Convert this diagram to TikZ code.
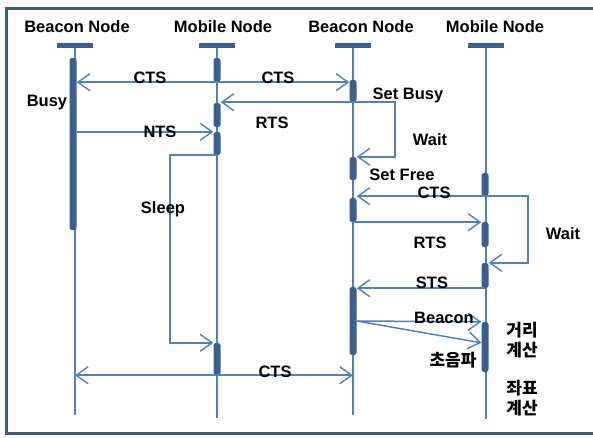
\documentclass[tikz,border=0pt]{standalone}
\usepackage{fontspec}
\setmainfont{Liberation Sans}
\newfontfamily\kr{Noto Sans CJK KR}
\usetikzlibrary{arrows.meta, positioning, calc}
\definecolor{lineblue}{HTML}{4F81BD}
\definecolor{barblue}{HTML}{3A5F94}
\definecolor{frameblue}{HTML}{3C5A85}

\begin{document}
\begin{tikzpicture}[
  x=1pt, y=-1pt,
  head/.style={font=\bfseries\fontsize{16.5}{18}\selectfont, inner sep=0pt},
  headbar/.style={rectangle, fill=barblue, minimum width=36pt, minimum height=5pt, inner sep=0pt},
  act/.style={rectangle, rounded corners=2.5pt, fill=barblue, minimum width=7pt, inner sep=0pt},
  life/.style={lineblue, line width=1.3pt},
  msg/.style={-{Straight Barb[length=12pt, width=17pt, line width=1.4pt]}, lineblue, line width=1.5pt},
  lbl/.style={font=\bfseries\fontsize{16.5}{18}\selectfont, inner sep=1pt},
  kor/.style={font=\kr\bfseries\fontsize{17}{20}\selectfont, inner sep=1pt},
]
\clip (0,0) rectangle (593,437);

% Frame
\draw[frameblue, line width=3pt] (6,8) rectangle (600,433);

% Headers
\node[head] (tA) at (77,27) {Beacon Node};
\node[head] (tB) at (223,27) {Mobile Node};
\node[head] (tC) at (361,27) {Beacon Node};
\node[head] (tD) at (495,27) {Mobile Node};
\node[headbar] (hA) at (75,45) {};
\node[headbar] (hB) at (217,45) {};
\node[headbar] (hC) at (353,45) {};
\node[headbar] (hD) at (486,45) {};

% Lifelines
\draw[life] (hA.south) -- ++(0,367);
\draw[life] (hB.south) -- ++(0,370);
\draw[life] (hC.south) -- ++(0,367);
\draw[life] (hD.south) -- ++(0,371);

% Activations beacon 1
\node[act, minimum height=172pt] (a1) at (73,144) {};

% Activations mobile 1
\node[act, minimum height=24pt] (m1) at (217,70) {};
\node[act, minimum height=24pt] (m2) at (217,115) {};
\node[act, minimum height=23pt] (m3) at (217,143.5) {};
\node[act, minimum height=32pt] (m4) at (217,359) {};

% Activations beacon 2
\node[act, minimum height=22pt] (c1) at (353,91) {};
\node[act, minimum height=23pt] (c2) at (353,168.5) {};
\node[act, minimum height=24pt] (c3) at (353,210) {};
\node[act, minimum height=68pt] (c4) at (353,321) {};

% Activations mobile 2
\node[act, minimum height=23pt] (d1) at (485,184.5) {};
\node[act, minimum height=25pt] (d2) at (485,234.5) {};
\node[act, minimum height=25pt] (d3) at (485,275.5) {};
\node[act, minimum height=50pt] (d4) at (485,347) {};

% Messages
\draw[msg] (m1.south) -- (a1.east |- m1.south);
\draw[msg] (m1.south) -- (c1.west |- m1.south);
\draw[msg] (c1.south) -- (m2.east |- c1.south);
\draw[msg] (c1.south) -- ++(42,0) |- (c2.north east);
\draw[msg] (a1.east |- m3.north) -- (m3.north west);
\draw[msg] (m3.south) -- ++(-47,0) |- (m4.north west);
\draw[msg] (d1.south) -- (c3.east |- d1.south);
\draw[msg] (d1.south) -- ++(43,0) |- (d3.north east);
\draw[msg] (c3.south) -- (d2.west |- c3.south);
\draw[msg] (d3.south) -- (c4.east |- d3.south);
\draw[msg] (c4.east) -- (d4.north west);
\draw[msg] (c4.east) -- ([yshift=-21pt]d4.north west);
\draw[msg] (m4.south) -- (hA |- m4.south);
\draw[msg] (m4.south) -- (hC |- m4.south);

% Labels
\node[lbl] (lCTSa) at (150,78) {CTS};
\node[lbl] (lCTSb) at (278,78) {CTS};
\node[lbl] (lBusy) at (47,103) {Busy};
\node[lbl] (lRTSa) at (272,123) {RTS};
\node[lbl] (lSetBusy) at (408,95) {Set Busy};
\node[lbl] (lWaita) at (430,140) {Wait};
\node[lbl] (lNTS) at (160,132) {NTS};
\node[lbl] (lSleep) at (163,209) {Sleep};
\node[lbl] (lSetFree) at (402,175) {Set Free};
\node[lbl] (lCTSc) at (434,193) {CTS};
\node[lbl] (lWaitb) at (563,234) {Wait};
\node[lbl] (lRTSb) at (430,243) {RTS};
\node[lbl] (lSTS) at (432,283) {STS};
\node[lbl] (lBeacon) at (444,318) {Beacon};
\node[kor] (lUltra) at (453,360) {초음파};
\node[kor] (lDist) at (522,330) {거리};
\node[kor] (lDistc) at (522,350) {계산};
\node[kor] (lPos) at (522,388) {좌표};
\node[kor] (lPosc) at (522,408) {계산};
\node[lbl] (lCTSd) at (275,372) {CTS};

\end{tikzpicture}
\end{document}
